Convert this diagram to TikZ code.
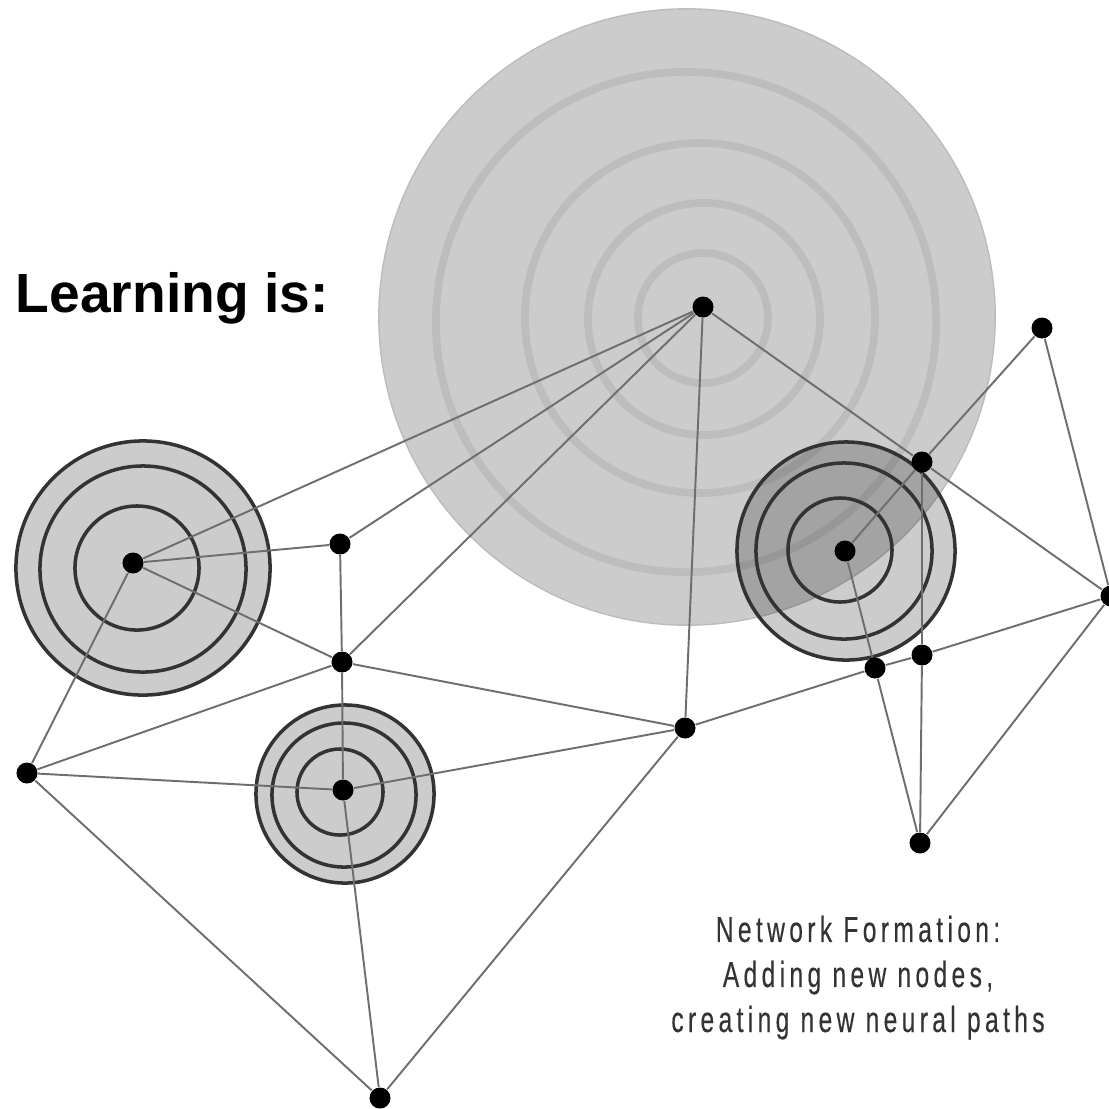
\documentclass[tikz,border=0pt]{standalone}
\usepackage{fontspec}
\setmainfont{Liberation Sans}
\newfontfamily\netfont[FakeStretch=0.68,LetterSpace=12,FakeBold=0.3]{Liberation Sans}
\definecolor{linkgray}{HTML}{6E6E6E}
\definecolor{ringgray}{HTML}{BDBDBD}
\definecolor{biggray}{HTML}{CCCCCC}
\definecolor{bigedge}{HTML}{BCBCBC}
\definecolor{circdark}{HTML}{333333}
\definecolor{textgray}{HTML}{333333}
\begin{document}
\begin{tikzpicture}[x=0.01cm,y=-0.01cm,
  dot/.style={circle,fill=black,inner sep=0pt,minimum size=0.21cm},
  link/.style={draw=linkgray,line width=0.55pt},
  ring/.style={draw=ringgray,line width=2.2pt},
  halo/.style={fill=black,fill opacity=0.2,draw=circdark,line width=1pt},
  band/.style={draw=circdark,line width=1pt}]
\useasboundingbox (0,0) rectangle (1109,1108);
% big circle with rings
\fill[biggray] (687,317) circle[radius=3.08cm];
\draw[bigedge,line width=0.4pt] (687,317) circle[radius=3.08cm];
\draw[ring] (686,322) circle[radius=2.5cm];
\draw[ring] (700,318) circle[radius=1.75cm];
\draw[ring] (704,319) circle[radius=1.16cm];
\draw[ring] (703,318) circle[radius=0.65cm];
% left cluster
\draw[halo] (143,568) circle[radius=1.27cm];
\draw[band] (143,569) circle[radius=1.03cm];
\draw[band] (137,568) circle[radius=0.62cm];
% bottom cluster
\draw[halo] (345,794) circle[radius=0.89cm];
\draw[band] (344,795) circle[radius=0.72cm];
\draw[band] (340,792) circle[radius=0.43cm];
% right cluster
\draw[halo] (846,551) circle[radius=1.09cm];
\draw[band] (844,551) circle[radius=0.88cm];
\draw[band] (840,550) circle[radius=0.52cm];
% nodes
\node[dot] (A) at (703,307) {};
\node[dot] (B) at (1042,328) {};
\node[dot] (C) at (922,462) {};
\node[dot] (D) at (845,551) {};
\node[dot] (E) at (1111,596) {};
\node[dot] (F) at (875,668) {};
\node[dot] (G) at (922,655) {};
\node[dot] (H) at (920,843) {};
\node[dot] (I) at (133,563) {};
\node[dot] (J) at (340,544) {};
\node[dot] (K) at (342,662) {};
\node[dot] (L) at (685,728) {};
\node[dot] (M) at (27,773) {};
\node[dot] (N) at (343,790) {};
\node[dot] (O) at (380,1098) {};
% links
\draw[link] (A) -- (I);
\draw[link] (A) -- (J);
\draw[link] (A) -- (K);
\draw[link] (A) -- (L);
\draw[link] (A) -- (C);
\draw[link] (C) -- (E);
\draw[link] (B) -- (C);
\draw[link] (C) -- (D);
\draw[link] (B) -- (E);
\draw[link] (C) -- (G);
\draw[link] (G) -- (H);
\draw[link] (D) -- (F);
\draw[link] (F) -- (H);
\draw[link] (E) -- (H);
\draw[link] (L) -- (F);
\draw[link] (F) -- (G);
\draw[link] (G) -- (E);
\draw[link] (I) -- (J);
\draw[link] (I) -- (K);
\draw[link] (I) -- (M);
\draw[link] (J) -- (K);
\draw[link] (K) -- (N);
\draw[link] (K) -- (L);
\draw[link] (K) -- (M);
\draw[link] (M) -- (N);
\draw[link] (M) -- (O);
\draw[link] (N) -- (L);
\draw[link] (N) -- (O);
\draw[link] (L) -- (O);
% texts
\node[anchor=base west,inner sep=0pt,font=\bfseries\fontsize{15.7}{18}\selectfont] (title) at (15,312) {Learning is:};
\node[anchor=north,inner sep=0pt,align=center,text=textgray,font=\netfont\fontsize{10.3}{12.8}\selectfont] (caption) at (858,915) {Network Formation:\\Adding new nodes,\\creating new neural paths};
\end{tikzpicture}
\end{document}
